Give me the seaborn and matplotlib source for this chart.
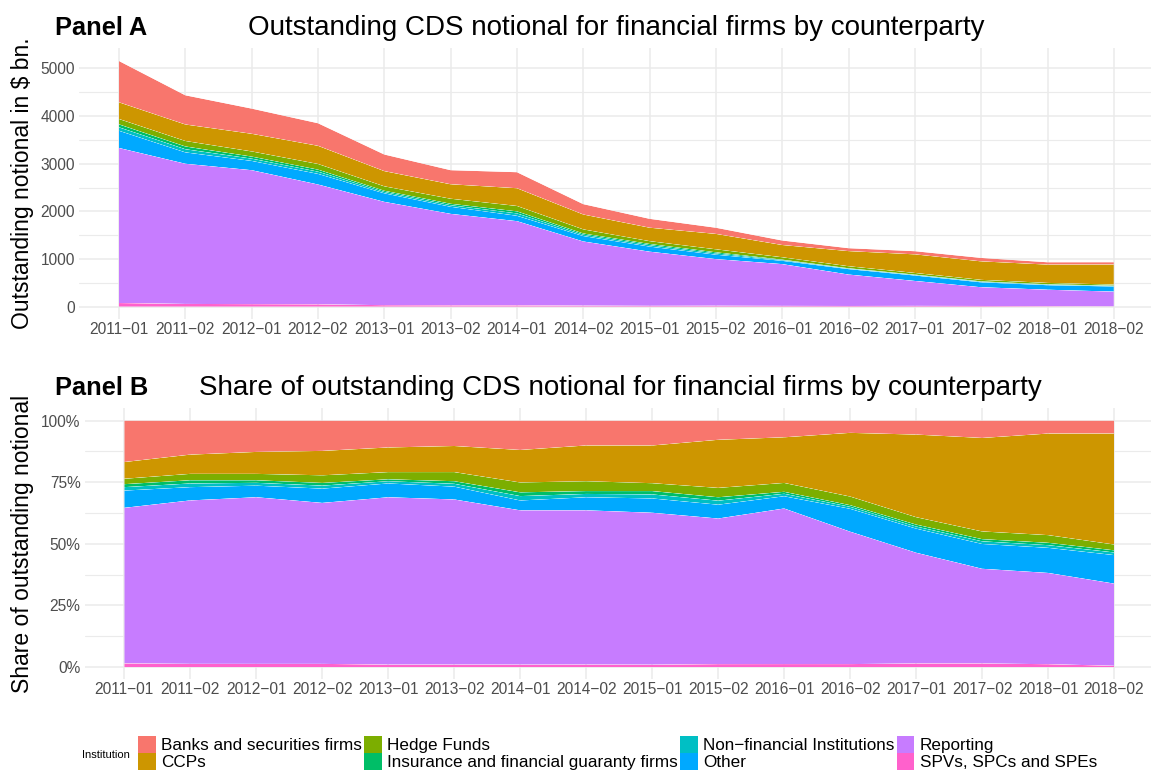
import matplotlib
matplotlib.use("Agg")
import matplotlib.pyplot as plt
from matplotlib.patches import Patch
from matplotlib.ticker import MultipleLocator
import numpy as np
import pandas as pd
import seaborn as sns
import seaborn.objects as so

# ---------------- data ----------------
dates = ["2011-01", "2011-02", "2012-01", "2012-02", "2013-01", "2013-02",
         "2014-01", "2014-02", "2015-01", "2015-02", "2016-01", "2016-02",
         "2017-01", "2017-02", "2018-01", "2018-02"]

banks = [866, 612, 528, 473, 348, 295, 336, 217, 186, 129, 94, 61, 66, 72, 49, 49]
ccps = [350, 346, 370, 381, 319, 303, 372, 312, 282, 323, 257, 317, 390, 388, 384, 420]
hedge_funds = [113, 115, 108, 119, 93, 106, 113, 86, 59, 63, 50, 43, 35, 32, 29, 22]
insurance = [62, 58, 43, 42, 25, 30, 43, 25, 25, 23, 11, 8, 9, 9, 9, 8]
non_financial = [72, 66, 48, 47, 29, 33, 50, 29, 30, 27, 14, 10, 10, 11, 10, 10]
other = [361, 239, 195, 223, 179, 149, 113, 114, 107, 93, 69, 114, 114, 103, 95, 108]
reporting = [3252, 2940, 2809, 2513, 2167, 1918, 1766, 1346, 1136, 978, 876, 659, 523, 393, 345, 311]
spvs = [77, 58, 54, 50, 32, 29, 28, 22, 18, 20, 17, 15, 17, 15, 11, 5]

institutions = ["Banks and securities firms", "CCPs", "Hedge Funds",
                "Insurance and financial guaranty firms", "Non-financial Institutions",
                "Other", "Reporting", "SPVs, SPCs and SPEs"]
series = [banks, ccps, hedge_funds, insurance, non_financial, other, reporting, spvs]
colors = ["#F8766D", "#CD9600", "#7CAE00", "#00BE67", "#00BFC4", "#00A9FF",
          "#C77CFF", "#FF61CC"]
palette = dict(zip(institutions, colors))

# long table, ordered bottom-of-stack first
rows = []
for name, vals in reversed(list(zip(institutions, series))):
    for i, (d, v) in enumerate(zip(dates, vals)):
        rows.append({"date": d, "pos": i, "Institution": name, "value": v})
df = pd.DataFrame(rows)
df["share"] = df["value"] / df.groupby("date")["value"].transform("sum")

# ---------------- style ----------------
sns.set_theme(style="whitegrid")
FONT = ["Liberation Sans", "DejaVu Sans"]
plt.rcParams["font.family"] = FONT
plt.rcParams["text.color"] = "black"
GRID = "#EBEBEB"
TXT = "#4D4D4D"
theme_rc = {"axes.facecolor": "white", "figure.facecolor": "white",
            "font.family": FONT, "axes.grid": True, "grid.color": GRID,
            "axes.edgecolor": "white"}

W, H = 1151, 771
fig = plt.figure(figsize=(W / 100, H / 100), dpi=100)
axA = fig.add_axes([79.2 / W, 1 - 319 / H, (W - 79.2) / W, 271 / H])
axB = fig.add_axes([84.7 / W, 1 - 679 / H, (W - 84.7) / W, 271 / H])

for ax, ycol in [(axA, "value"), (axB, "share")]:
    (so.Plot(df, x="pos", y=ycol, color="Institution")
     .add(so.Area(alpha=1, edgewidth=0), so.Stack(), legend=False)
     .scale(color=so.Nominal(palette, order=institutions))
     .theme(theme_rc)
     .on(ax)
     .plot())

tick_labels = [d.replace("-", "\u2212") for d in dates]


def style(ax, xright):
    ax.set_facecolor("white")
    ax.set_xlabel("")
    ax.set_ylabel("")
    ax.set_xlim(-0.6, xright)
    ax.set_xticks(range(len(dates)))
    ax.set_xticklabels(tick_labels, fontsize=11.2, color=TXT, family=FONT)
    for s in ax.spines.values():
        s.set_visible(False)
    ax.tick_params(axis="both", which="both", length=0)
    ax.tick_params(axis="x", pad=2)
    ax.tick_params(axis="y", pad=3)
    ax.set_axisbelow(True)
    ax.grid(True, which="major", color=GRID, lw=1.1)
    ax.grid(True, which="minor", axis="y", color=GRID, lw=0.8)
    ax.grid(False, which="minor", axis="x")


style(axA, 15.56)
axA.set_ylim(-258, 5426)
axA.set_yticks([0, 1000, 2000, 3000, 4000, 5000])
axA.set_yticklabels(["0", "1000", "2000", "3000", "4000", "5000"],
                    fontsize=11.2, color=TXT, family=FONT)
axA.yaxis.set_minor_locator(MultipleLocator(500))
axA.grid(True, which="minor", axis="y", color=GRID, lw=0.8)

style(axB, 15.56)
axB.set_ylim(-0.0483, 1.0511)
axB.set_yticks([0, 0.25, 0.5, 0.75, 1.0])
axB.set_yticklabels(["0%", "25%", "50%", "75%", "100%"],
                    fontsize=11.2, color=TXT, family=FONT)
axB.yaxis.set_minor_locator(MultipleLocator(0.125))
axB.grid(True, which="minor", axis="y", color=GRID, lw=0.8)

# titles
fig.text(55 / W, 1 - 28 / H, "Panel A", fontsize=18.3, fontweight="bold",
         ha="left", va="center", family=FONT, color="black")
fig.text(616.5 / W, 1 - 28 / H,
         "Outstanding CDS notional for financial firms by counterparty",
         fontsize=20, ha="center", va="center", family=FONT, color="black")
fig.text(55 / W, 1 - 388 / H, "Panel B", fontsize=18.3, fontweight="bold",
         ha="left", va="center", family=FONT, color="black")
fig.text(620 / W, 1 - 388 / H,
         "Share of outstanding CDS notional for financial firms by counterparty",
         fontsize=20, ha="center", va="center", family=FONT, color="black")

# axis titles
fig.text(23 / W, 1 - 183.5 / H, "Outstanding notional in $ bn.", fontsize=16.5,
         rotation=90, ha="center", va="center", family=FONT, color="black")
fig.text(23 / W, 1 - 543.5 / H, "Share of outstanding notional", fontsize=16.5,
         rotation=90, ha="center", va="center", family=FONT, color="black")

# legend
handles = [Patch(facecolor=palette[n], edgecolor="none") for n in institutions]
labels = [n.replace("-", "\u2212") for n in institutions]
fig.legend(handles, labels, ncol=4, loc="upper left",
           bbox_to_anchor=(138 / W, 1 - 736 / H), frameon=False,
           prop={"family": FONT, "size": 12.3}, handlelength=1.03,
           handleheight=1.13, handletextpad=0.3, columnspacing=0.15,
           labelspacing=0.0, borderpad=0, borderaxespad=0,
           labelcolor="black")
fig.text(82 / W, 1 - 755 / H, "Institution", fontsize=8, ha="left",
         va="center", family=FONT, color="black")

fig.savefig("out.png", dpi=100, facecolor="white")
